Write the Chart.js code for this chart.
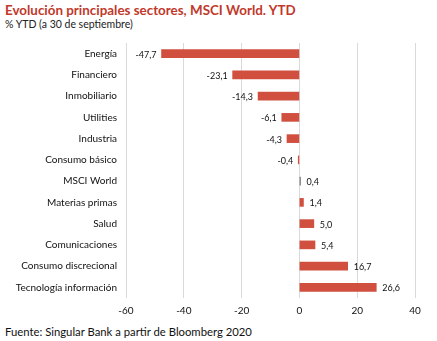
<!DOCTYPE html>
<html><head><meta charset="utf-8">
<script src="https://cdn.jsdelivr.net/npm/chart.js@4"></script>
<style>
html,body{margin:0;padding:0;background:#fff;width:437px;height:341px;overflow:hidden;font-family:Lato,"Open Sans",sans-serif;}
#t{position:absolute;left:5px;top:2px;font-size:13.4px;font-weight:bold;color:#c0392b;white-space:nowrap;}
#s{position:absolute;left:5px;top:18px;font-size:10.5px;font-weight:normal;color:#222;white-space:nowrap;}
#f{position:absolute;left:5px;top:325px;font-size:11.3px;color:#111;white-space:nowrap;}
#c{position:absolute;left:0;top:28px;width:437px;height:296px;}
</style></head><body>
<div id="t">Evolución principales sectores, MSCI World. YTD</div>
<div id="s">% YTD (a 30 de septiembre)</div>
<div id="c"><canvas id="ch"></canvas></div>
<div id="f">Fuente: Singular Bank a partir de Bloomberg 2020</div>
<script>
const categories = ["Energía","Financiero","Inmobiliario","Utilities","Industria","Consumo básico","MSCI World","Materias primas","Salud","Comunicaciones","Consumo discrecional","Tecnología información"];
const values = [-47.7,-23.1,-14.3,-6.1,-4.3,-0.4,0.4,1.4,5.0,5.4,16.7,26.6];
const xTicks = [-60,-40,-20,0,20,40];
const highlight = "MSCI World";

const colors = categories.map(c => c === highlight ? "#7f7f7f" : "#d04f3f");

const labelPlugin = {
  id: "vlabels",
  afterDatasetsDraw(chart) {
    const ctx = chart.ctx;
    const meta = chart.getDatasetMeta(0);
    ctx.save();
    ctx.font = "9px Lato, sans-serif";
    ctx.fillStyle = "#111";
    ctx.textBaseline = "middle";
    meta.data.forEach((bar, i) => {
      const v = values[i];
      const txt = v.toFixed(1).replace(".", ",");
      if (v < 0) { ctx.textAlign = "right"; ctx.fillText(txt, bar.x - 5, bar.y + 1); }
      else { ctx.textAlign = "left"; ctx.fillText(txt, bar.x + 6, bar.y + 1); }
    });
    ctx.restore();
  }
};

new Chart(document.getElementById("ch"), {
  type: "bar",
  data: { labels: categories, datasets: [{ data: values, backgroundColor: colors, barThickness: 8 }] },
  options: {
    indexAxis: "y",
    responsive: true,
    maintainAspectRatio: false,
    animation: false,
    layout: { padding: { top: 4, right: 22, left: 0, bottom: 0 } },
    plugins: { legend: { display: false }, tooltip: { enabled: false } },
    scales: {
      x: {
        min: -60, max: 40,
        afterBuildTicks(s) { s.ticks = xTicks.map(v => ({ value: v })); },
        grid: { color: "#d9d9d9", lineWidth: 1, drawTicks: false },
        border: { display: false },
        ticks: { padding: 7, color: "#111", font: { family: "Lato", size: 10 } }
      },
      y: {
        grid: { display: false, drawTicks: false },
        border: { display: false },
        afterFit(s) { s.width = 126; },
        ticks: { padding: 9, color: "#111", font: { family: "Lato", size: 10 } }
      }
    }
  },
  plugins: [labelPlugin]
});
</script>
</body></html>
